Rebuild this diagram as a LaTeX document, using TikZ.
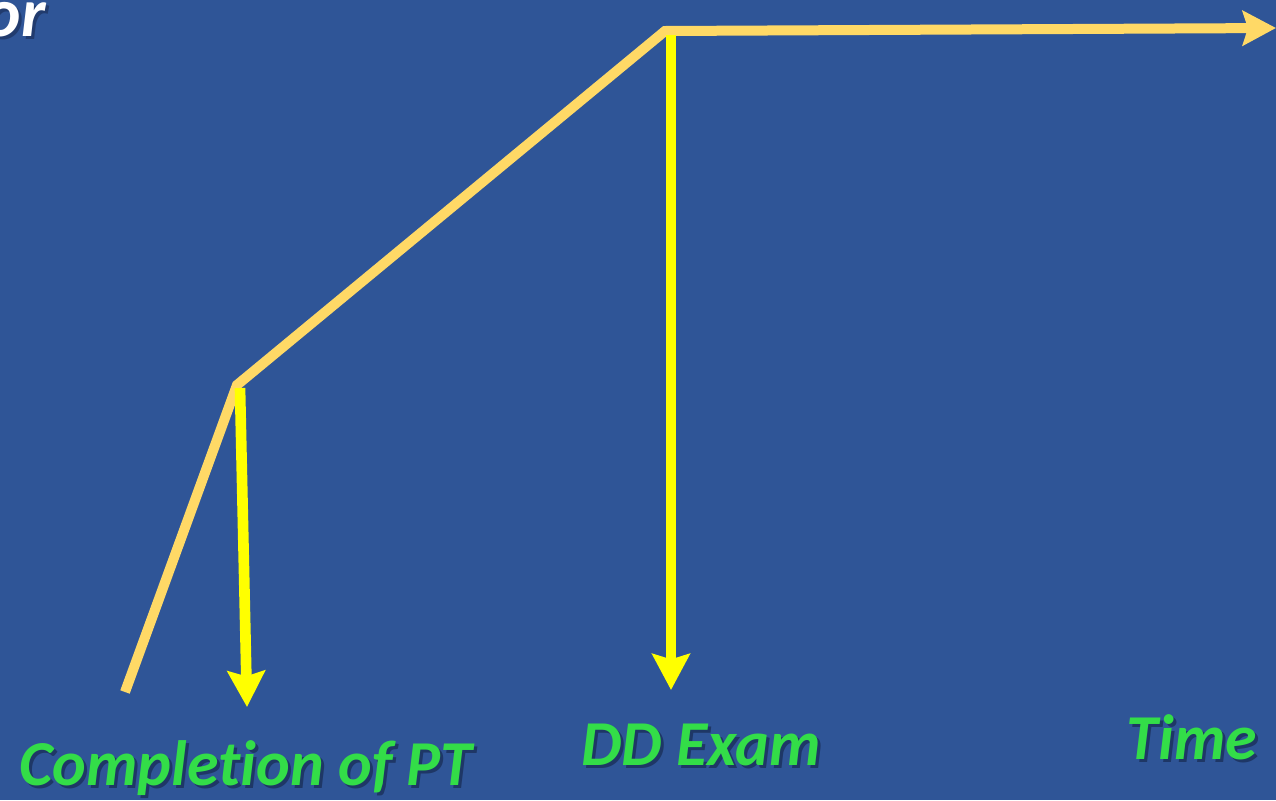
\documentclass[tikz,border=0pt]{standalone}
\usepackage{fontspec}
\setmainfont{Carlito}[Ligatures={NoCommon}]
\usetikzlibrary{arrows.meta}
\definecolor{bgblue}{RGB}{47,85,151}
\definecolor{curve}{RGB}{255,217,102}
\definecolor{ylw}{RGB}{255,255,0}
\definecolor{lbl}{RGB}{51,221,72}
\definecolor{shd}{RGB}{20,35,70}
\tikzset{
  curveline/.style={draw=curve,line width=7.5,line join=miter},
  yarrow/.style={draw=ylw,line width=8,-{Stealth[length=27pt,width=28pt,inset=4pt]}},
  lbltext/.style={font=\fontsize{48}{52}\selectfont\bfseries\itshape,text=lbl,inner sep=0pt},
  shdtext/.style={font=\fontsize{48}{52}\selectfont\bfseries\itshape,text=shd,opacity=0.6,inner sep=0pt},
}
\begin{document}
\begin{tikzpicture}[x=0.75pt,y=-0.75pt]
\fill[bgblue] (0,0) rectangle (1276,800);
\useasboundingbox (0,0) rectangle (1276,800);
% top-left clipped word
\node[font=\fontsize{52}{56}\selectfont\bfseries\itshape,text=shd,opacity=0.5,anchor=base east,inner sep=0pt] (orshd) at (49,39) {or};
\node[font=\fontsize{52}{56}\selectfont\bfseries\itshape,text=white,anchor=base east,inner sep=0pt] (or) at (46,36) {or};
% curve points
\coordinate (p0) at (125,692);
\coordinate (p1) at (237,385);
\coordinate (p2) at (665,31);
\coordinate (p3) at (1276,28);
\draw[curveline,-{Stealth[length=25pt,width=26pt,inset=4pt]}] (p0) -- (p1) -- (p2) -- (p3);
% drop arrows
\coordinate (a1s) at (240,388);
\coordinate (a1e) at (247,707);
\coordinate (a2s) at (671,35);
\coordinate (a2e) at (671,690);
\draw[yarrow] (a1s) -- (a1e);
\draw[yarrow] (a2s) -- (a2e);
% labels
\node[shdtext] (l1s) at (249,771) {Complet\kern0pt ion of PT};
\node[lbltext] (l1) at (246,768) {Complet\kern0pt ion of PT};
\node[shdtext] (l2s) at (704,748) {DD Exam};
\node[lbltext] (l2) at (701,745) {DD Exam};
\node[shdtext] (l3s) at (1195,740) {Time};
\node[lbltext] (l3) at (1192,737) {Time};
\end{tikzpicture}
\end{document}
